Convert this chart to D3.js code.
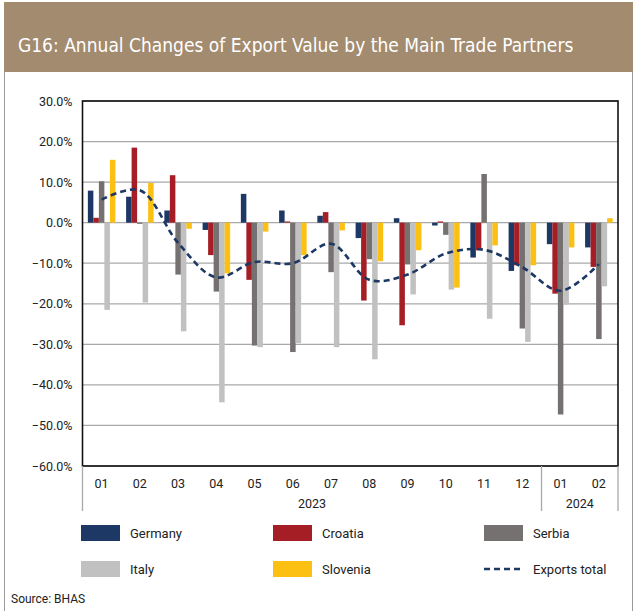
<!DOCTYPE html>
<html>
<head>
<meta charset="utf-8">
<script src="https://cdn.jsdelivr.net/npm/d3@7"></script>
<style>
  body { margin: 0; background: #fff; }
  svg { display: block; font-family: Roboto, "Open Sans", sans-serif; }
</style>
</head>
<body>
<div id="root"></div>
<script>
// periods on the x axis (year-month)
const periods = ["2023-01","2023-02","2023-03","2023-04","2023-05","2023-06","2023-07",
                 "2023-08","2023-09","2023-10","2023-11","2023-12","2024-01","2024-02"]
const years = ["2023", "2024"]

// annual change, %
const germany  = [7.9, 6.4, 3.0, -1.8, 7.1, 3.0, 1.7, -3.8, 1.1, -0.7, -8.6, -11.9, -5.3, -6.1]
const croatia  = [1.2, 18.5, 11.7, -8.0, -14.1, 0.3, 2.6, -19.2, -25.3, 0.3, -6.8, -10.5, -17.5, -10.9]
const serbia   = [10.2, -0.3, -12.8, -17.0, -30.3, -31.9, -12.2, -9.0, -10.3, -3.0, 12.0, -26.1, -47.3, -28.7]
const italy    = [-21.5, -19.7, -26.8, -44.3, -30.7, -29.7, -30.7, -33.7, -17.7, -16.5, -23.7, -29.4, -20.2, -15.7]
const slovenia = [15.5, 9.8, -1.5, -12.5, -2.2, -8.0, -1.9, -9.5, -6.8, -16.0, -5.6, -10.5, -6.1, 1.1]
const exportsTotal = [5.7, 8.0, -5.0, -13.5, -9.7, -10.0, -5.2, -14.1, -12.8, -7.6, -6.7, -11.0, -16.8, -10.2]

const yTicks = [30, 20, 10, 0, -10, -20, -30, -40, -50, -60]

const seriesNames = ["Germany", "Croatia", "Serbia", "Italy", "Slovenia"]
const seriesValues = [germany, croatia, serbia, italy, slovenia]
const colors = ["#1d3864", "#a51d25", "#767171", "#c1c1c1", "#fcc012"]
const lineColor = "#1d3864"

const W = 637, H = 611
const svg = d3.select("#root").append("svg").attr("width", W).attr("height", H)

// outer frame + header
svg.append("rect").attr("x", 4.5).attr("y", 2.5).attr("width", 628).attr("height", 620)
    .attr("fill", "none").attr("stroke", "#9a9a9a")
svg.append("rect").attr("x", 4).attr("y", 2).attr("width", 629).attr("height", 70).attr("fill", "#a38b6f")
const title = svg.append("text").attr("x", 18).attr("y", 52).attr("fill", "#fff")
    .attr("font-family", "'Liberation Sans Narrow', 'DejaVu Sans Condensed', Roboto, sans-serif")
    .attr("font-size", 23)
    .text("G16: Annual Changes of Export Value by the Main Trade Partners")
// shrink the title until it fits the header width
let fs = 23
while (title.node().getComputedTextLength() > 566 && fs > 12) {
    fs -= 0.5
    title.attr("font-size", fs)
}

const plotL = 82.5, plotR = 618, plotT = 101, plotB = 466

const x = d3.scaleBand().domain(periods).range([plotL, plotR]).paddingInner(0.28).paddingOuter(0.14)
const xs = d3.scaleBand().domain(seriesNames).range([0, x.bandwidth()])
const y = d3.scaleLinear().domain([-60, 30]).range([plotB, plotT])

// gridlines
svg.append("g").selectAll("line").data(yTicks).join("line")
    .attr("x1", plotL).attr("x2", plotR)
    .attr("y1", d => y(d)).attr("y2", d => y(d))
    .attr("stroke", "#a9a9a9").attr("stroke-width", 1.3)

// y axis labels
const yAxis = d3.axisLeft(y).tickValues(yTicks).tickSize(0).tickPadding(10)
    .tickFormat(d => d3.format(".1f")(d) + "%")
const ya = svg.append("g").attr("transform", `translate(${plotL},0)`).call(yAxis)
ya.select(".domain").remove()
ya.selectAll("text").attr("font-size", 12.5).attr("fill", "#222")
    .attr("font-family", "Roboto, sans-serif")

// bars
const rows = periods.map((p, i) => ({ p, vals: seriesValues.map((s, j) => ({ name: seriesNames[j], v: s[i], c: colors[j] })) }))
svg.append("g").selectAll("g").data(rows).join("g")
    .attr("transform", d => `translate(${x(d.p)},0)`)
    .selectAll("rect").data(d => d.vals).join("rect")
    .attr("x", d => xs(d.name)).attr("width", xs.bandwidth())
    .attr("y", d => y(Math.max(0, d.v)))
    .attr("height", d => Math.abs(y(d.v) - y(0)))
    .attr("fill", d => d.c)

// exports total line
const line = d3.line()
    .x((d, i) => x(periods[i]) + x.bandwidth() / 2)
    .y(d => y(d))
    .curve(d3.curveCatmullRom.alpha(0.5))
svg.append("path").datum(exportsTotal).attr("d", line)
    .attr("fill", "none").attr("stroke", lineColor).attr("stroke-width", 2.6)
    .attr("stroke-dasharray", "6,4")

// plot frame
svg.append("rect").attr("x", plotL).attr("y", plotT).attr("width", plotR - plotL).attr("height", plotB - plotT)
    .attr("fill", "none").attr("stroke", "#111").attr("stroke-width", 1.6)

// x axis: month labels
const xa = svg.append("g")
xa.selectAll("text").data(periods).join("text")
    .attr("x", d => x(d) + x.bandwidth() / 2).attr("y", 488)
    .attr("text-anchor", "middle").attr("font-size", 12.5).attr("fill", "#222")
    .text(d => d.split("-")[1])

// year separators and labels
const firstOf = yr => periods.find(p => p.startsWith(yr))
const lastOf = yr => periods.filter(p => p.startsWith(yr)).slice(-1)[0]
const step = x.step()
const sepX = [plotL, x(firstOf("2024")) - step * 0.14, plotR]
xa.selectAll("line").data(sepX).join("line")
    .attr("x1", d => d).attr("x2", d => d).attr("y1", plotB).attr("y2", 511)
    .attr("stroke", "#a9a9a9").attr("stroke-width", 1.3)
years.forEach(yr => {
    const a = x(firstOf(yr)), b = x(lastOf(yr)) + x.bandwidth()
    xa.append("text").attr("x", (a + b) / 2).attr("y", 508)
        .attr("text-anchor", "middle").attr("font-size", 12.5).attr("fill", "#222").text(yr)
})

// legend
const legendItems = [
    { name: "Germany", c: colors[0], col: 0, row: 0 },
    { name: "Croatia", c: colors[1], col: 1, row: 0 },
    { name: "Serbia", c: colors[2], col: 2, row: 0 },
    { name: "Italy", c: colors[3], col: 0, row: 1 },
    { name: "Slovenia", c: colors[4], col: 1, row: 1 },
    { name: "Exports total", c: lineColor, col: 2, row: 1, line: true }
]
const colX = [81, 273, 484], rowY = [525, 561]
const lg = svg.append("g").selectAll("g").data(legendItems).join("g")
    .attr("transform", d => `translate(${colX[d.col]},${rowY[d.row]})`)
lg.filter(d => !d.line).append("rect").attr("width", 39).attr("height", 16).attr("fill", d => d.c)
lg.filter(d => d.line).append("line").attr("x1", 0).attr("x2", 39).attr("y1", 8).attr("y2", 8)
    .attr("stroke", d => d.c).attr("stroke-width", 2.6).attr("stroke-dasharray", "6,4")
lg.append("text").attr("x", 49).attr("y", 12.5).attr("font-size", 13).attr("fill", "#222").text(d => d.name)

svg.append("text").attr("x", 11).attr("y", 603).attr("font-size", 12).attr("fill", "#222").text("Source: BHAS")
</script>
</body>
</html>
